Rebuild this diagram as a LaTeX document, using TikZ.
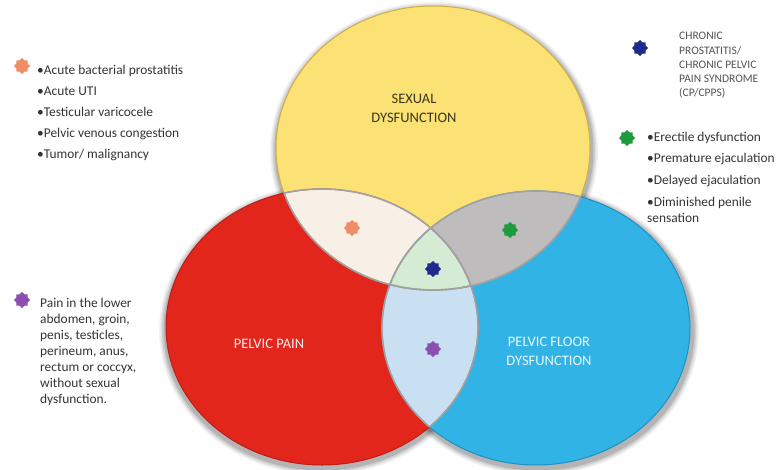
\documentclass[tikz,border=0pt]{standalone}
\usepackage{fontspec}
\setmainfont{Carlito}
\usetikzlibrary{shapes.geometric}

\definecolor{sexfill}{HTML}{FCE274}
\definecolor{sexline}{HTML}{CFB044}
\definecolor{painfill}{HTML}{E2261C}
\definecolor{painline}{HTML}{BF1D15}
\definecolor{floorfill}{HTML}{31B3E6}
\definecolor{floorline}{HTML}{1D90C6}
\definecolor{lensRY}{HTML}{F8EFE6}
\definecolor{lensYB}{HTML}{BEBCBC}
\definecolor{lensRB}{HTML}{C9E0F3}
\definecolor{lensAll}{HTML}{D6EBD3}
\definecolor{lensedge}{HTML}{A2A2A2}
\definecolor{staror}{HTML}{F08C66}
\definecolor{stargr}{HTML}{1F9A3E}
\definecolor{starnv}{HTML}{1F2B8C}
\definecolor{starpu}{HTML}{8A4FB0}
\definecolor{listtext}{HTML}{333333}
\definecolor{sextext}{HTML}{3A371C}

% the three sets
\def\SetSex{(433,148) ellipse [x radius=157, y radius=142]}
\def\SetPain{(322,327) ellipse [x radius=156, y radius=138]}
\def\SetFloor{(536,328) ellipse [x radius=154, y radius=137]}

\tikzset{
  marker/.style={star, star points=8, star point ratio=1.3, inner sep=0pt,
                 minimum size=16, draw=none},
  listline/.style={anchor=base west, inner sep=0pt, text=listtext,
                   font=\fontsize{13.4}{16}\selectfont},
  capsline/.style={anchor=base west, inner sep=0pt, text=listtext!85,
                   font=\fontsize{11.5}{14}\selectfont},
  setlabel/.style={anchor=base, inner sep=0pt,
                   font=\fontsize{14.5}{17}\selectfont},
  lensline/.style={draw=lensedge, line width=1.6pt},
}

\begin{document}
\begin{tikzpicture}[x=1pt, y=-1pt]
\useasboundingbox (0,0) rectangle (784,469);

% soft shadows behind the sets
\foreach \k/\o in {7/0.05, 5.5/0.07, 4/0.09, 2.5/0.12} {
  \fill[black, opacity=\o] (434,151) ellipse [x radius={157+\k}, y radius={142+\k}];
  \fill[black, opacity=\o] (322,330) ellipse [x radius={156+\k}, y radius={138+\k}];
  \fill[black, opacity=\o] (538,331) ellipse [x radius={154+\k}, y radius={137+\k}];
}

% set fills
\fill[sexfill] \SetSex;
\fill[painfill] \SetPain;
\fill[floorfill] \SetFloor;

% pairwise overlaps and the common core
\begin{scope} \clip \SetPain; \fill[lensRY] \SetSex; \end{scope}
\begin{scope} \clip \SetFloor; \fill[lensYB] \SetSex; \end{scope}
\begin{scope} \clip \SetPain; \fill[lensRB] \SetFloor; \end{scope}
\begin{scope} \clip \SetPain; \clip \SetFloor; \fill[lensAll] \SetSex; \end{scope}

% outer rims
\draw[sexline, line width=1pt] \SetSex;
\draw[painline, line width=1pt] \SetPain;
\draw[floorline, line width=1pt] \SetFloor;

% rims of the overlap regions
\begin{scope} \clip \SetPain;  \draw[lensline] \SetSex;  \draw[lensline] \SetFloor; \end{scope}
\begin{scope} \clip \SetSex;   \draw[lensline] \SetPain; \draw[lensline] \SetFloor; \end{scope}
\begin{scope} \clip \SetFloor; \draw[lensline] \SetPain; \draw[lensline] \SetSex;   \end{scope}

% set names
\node[setlabel, text=sextext] (sexA) at (414,103) {SEXUAL};
\node[setlabel, text=sextext] (sexB) at (414,122) {DYSFUNCTION};
\node[setlabel, text=white!92!painfill] (pain) at (269,348) {PELVIC PAIN};
\node[setlabel, text=white!90!floorfill] (floorA) at (549,346) {PELVIC FLOOR};
\node[setlabel, text=white!90!floorfill] (floorB) at (549,365) {DYSFUNCTION};

% markers inside the overlaps
\node[marker, fill=staror] (mRY) at (352,228) {};
\node[marker, fill=stargr] (mYB) at (510,230) {};
\node[marker, fill=starnv] (mAll) at (433,269) {};
\node[marker, fill=starpu] (mRB) at (433,349) {};

% key: pelvic pain with sexual dysfunction
\node[marker, fill=staror] (kRY) at (22,66) {};
\node[listline] (kRY1) at (37,74)  {•Acute bacterial prostatitis};
\node[listline] (kRY2) at (37,95)  {•Acute UTI};
\node[listline] (kRY3) at (37,116) {•Testicular varicocele};
\node[listline] (kRY4) at (37,137) {•Pelvic venous congestion};
\node[listline] (kRY5) at (37,158) {•Tumor/ malignancy};

% key: pelvic pain with pelvic floor dysfunction
\node[marker, fill=starpu] (kRB) at (22,300) {};
\node[listline] (kRB1) at (40,307) {Pain in the lower};
\node[listline] (kRB2) at (40,323) {abdomen, groin,};
\node[listline] (kRB3) at (40,339) {penis, testicles,};
\node[listline] (kRB4) at (40,355) {perineum, anus,};
\node[listline] (kRB5) at (40,371) {rectum or coccyx,};
\node[listline] (kRB6) at (40,387) {without sexual};
\node[listline] (kRB7) at (40,403) {dysfunction.};

% key: all three sets
\node[marker, fill=starnv] (kAll) at (640,48) {};
\node[capsline] (kAll1) at (679,39) {CHRONIC};
\node[capsline] (kAll2) at (679,54) {PROSTATITIS/};
\node[capsline] (kAll3) at (679,68) {CHRONIC PELVIC};
\node[capsline] (kAll4) at (679,82) {PAIN SYNDROME};
\node[capsline] (kAll5) at (679,96) {(CP/CPPS)};

% key: sexual dysfunction with pelvic floor dysfunction
\node[marker, fill=stargr] (kYB) at (627,138) {};
\node[listline] (kYB1) at (647,141) {•Erectile dysfunction};
\node[listline] (kYB2) at (647,162) {•Premature ejaculation};
\node[listline] (kYB3) at (647,184) {•Delayed ejaculation};
\node[listline] (kYB4) at (647,206) {•Diminished penile};
\node[listline] (kYB5) at (647,222) {sensation};
\end{tikzpicture}
\end{document}
